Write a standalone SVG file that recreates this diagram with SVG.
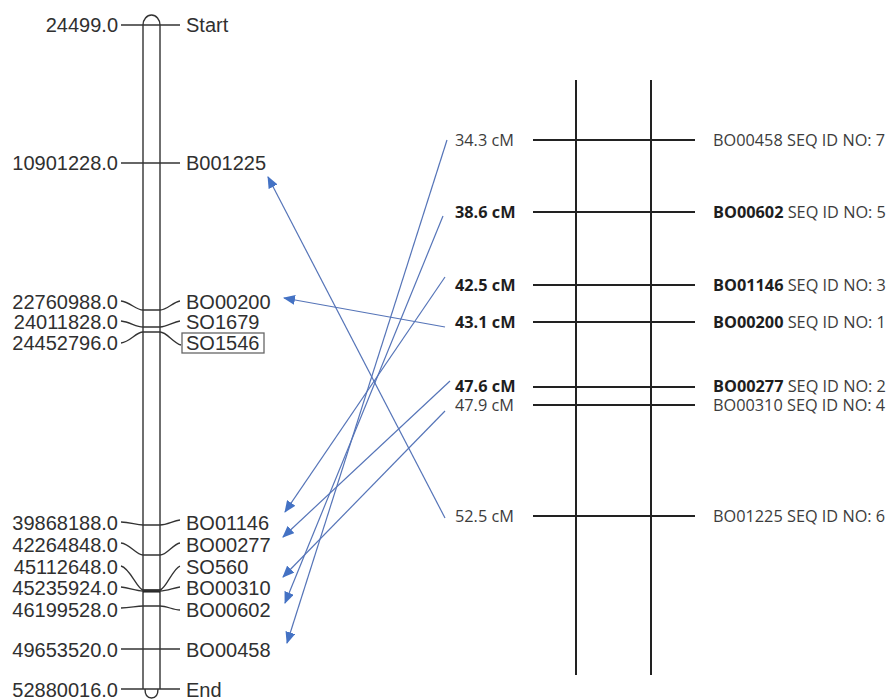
<svg xmlns="http://www.w3.org/2000/svg" width="895" height="700" viewBox="0 0 895 700">
<style>
.lt{font-family:"Liberation Sans",Arial,sans-serif;font-size:20px;fill:#303030}
.ln{text-anchor:end}
.rt{font-family:"Open Sans","Noto Sans",sans-serif;font-size:16.3px;fill:#3c3c3c}
.b{font-weight:bold;fill:#1e1e1e}
.tk{fill:none;stroke:#333;stroke-width:1.3}
.ch{fill:none;stroke:#333;stroke-width:1.4}
.rl{fill:none;stroke:#222;stroke-width:2}
.ar{fill:none;stroke:#5574b8;stroke-width:1.2;marker-end:url(#ah)}
</style>
<defs>
<marker id="ah" markerUnits="userSpaceOnUse" markerWidth="12" markerHeight="10" refX="11" refY="5" orient="auto">
<path d="M0,0 L12,5 L0,10 z" fill="#4472c4"/>
</marker>
</defs>
<rect width="895" height="700" fill="#fff"/>
<g id="chromosome">
<path class="ch" d="M143,689 V25 A8.5,10 0 0 1 160,25 V689"/>
<path class="ch" d="M145,689 Q145,698 151.5,698 Q158,698 158,689"/>
<line x1="143" y1="591" x2="160" y2="591" stroke="#111" stroke-width="3"/>
</g>
<g id="physical-map">
<g id="m-start"><path class="tk" d="M121,25 H180"/><text class="lt ln" x="118" y="32">24499.0</text><text class="lt" x="186" y="32">Start</text></g>
<g id="m-b001225"><path class="tk" d="M121,163 H180"/><text class="lt ln" x="118" y="170">10901228.0</text><text class="lt" x="186" y="170">B001225</text></g>
<g id="m-bo00200"><path class="tk" d="M121,301 C130,302 136,310 143,310 H160 C167,310 173,302 180,301"/><text class="lt ln" x="118" y="309">22760988.0</text><text class="lt" x="186" y="309">BO00200</text></g>
<g id="m-so1679"><path class="tk" d="M121,321 C130,322 136,327 143,327 H160 C167,327 173,322 180,321"/><text class="lt ln" x="118" y="329">24011828.0</text><text class="lt" x="186" y="329">SO1679</text></g>
<g id="m-so1546"><path class="tk" d="M121,343 C130,342 136,332 143,332 H160 C167,332 173,343 181,345"/><text class="lt ln" x="118" y="350">24452796.0</text><rect x="182" y="333" width="82" height="20" fill="none" stroke="#666" stroke-width="1.3"/><text class="lt" x="186" y="350">SO1546</text></g>
<g id="m-bo01146"><path class="tk" d="M121,522 C130,522 136,525 143,525 H160 C167,525 173,521 180,520"/><text class="lt ln" x="118" y="530">39868188.0</text><text class="lt" x="186" y="530">BO01146</text></g>
<g id="m-bo00277"><path class="tk" d="M121,543 C130,544 136,555 143,555 H160 C167,555 173,544 180,543"/><text class="lt ln" x="118" y="552">42264848.0</text><text class="lt" x="186" y="552">BO00277</text></g>
<g id="m-so560"><path class="tk" d="M121,566 C130,568 137,589 143,590 H160 C166,589 173,568 180,566"/><text class="lt ln" x="118" y="574">45112648.0</text><text class="lt" x="186" y="574">SO560</text></g>
<g id="m-bo00310"><path class="tk" d="M121,587 C130,588 136,591 143,591 H160 C167,591 173,588 180,587"/><text class="lt ln" x="118" y="595">45235924.0</text><text class="lt" x="186" y="595">BO00310</text></g>
<g id="m-bo00602"><path class="tk" d="M121,608 C130,608 136,606 143,606 H160 C167,606 173,610 180,610"/><text class="lt ln" x="118" y="617">46199528.0</text><text class="lt" x="186" y="617">BO00602</text></g>
<g id="m-bo00458"><path class="tk" d="M121,649 H180"/><text class="lt ln" x="118" y="657">49653520.0</text><text class="lt" x="186" y="657">BO00458</text></g>
<g id="m-end"><path class="tk" d="M121,689 H180"/><text class="lt ln" x="118" y="697">52880016.0</text><text class="lt" x="186" y="697">End</text></g>
</g>
<g id="genetic-map">
<line class="rl" x1="576" y1="80" x2="576" y2="675"/>
<line class="rl" x1="651" y1="80" x2="651" y2="675"/>
<g id="g-bo00458"><line class="rl" x1="533" y1="140" x2="695" y2="140"/><text class="rt" x="455" y="146">34.3 cM</text><text class="rt" x="713" y="146">BO00458 SEQ ID NO: 7</text></g>
<g id="g-bo00602"><line class="rl" x1="533" y1="212" x2="695" y2="212"/><text class="rt b" x="455" y="218">38.6 cM</text><text class="rt" x="713" y="218"><tspan class="b">BO00602</tspan> SEQ ID NO: 5</text></g>
<g id="g-bo01146"><line class="rl" x1="533" y1="285" x2="695" y2="285"/><text class="rt b" x="455" y="291">42.5 cM</text><text class="rt" x="713" y="291"><tspan class="b">BO01146</tspan>  SEQ ID NO: 3</text></g>
<g id="g-bo00200"><line class="rl" x1="533" y1="322" x2="695" y2="322"/><text class="rt b" x="455" y="328">43.1 cM</text><text class="rt" x="713" y="328"><tspan class="b">BO00200</tspan>  SEQ ID NO: 1</text></g>
<g id="g-bo00277"><line class="rl" x1="533" y1="387" x2="695" y2="387"/><text class="rt b" x="455" y="392">47.6 cM</text><text class="rt" x="713" y="392"><tspan class="b">BO00277</tspan>  SEQ ID NO: 2</text></g>
<g id="g-bo00310"><line class="rl" x1="533" y1="405" x2="695" y2="405"/><text class="rt" x="455" y="411">47.9 cM</text><text class="rt" x="713" y="411">BO00310  SEQ ID NO: 4</text></g>
<g id="g-bo01225"><line class="rl" x1="533" y1="516" x2="695" y2="516"/><text class="rt" x="455" y="522">52.5 cM</text><text class="rt" x="713" y="522">BO01225 SEQ ID NO: 6</text></g>
</g>
<g id="connectors">
<line class="ar" x1="447" y1="140" x2="287" y2="643"/>
<line class="ar" x1="443" y1="216" x2="285" y2="603"/>
<line class="ar" x1="445" y1="277" x2="285" y2="512"/>
<line class="ar" x1="445" y1="327" x2="284" y2="298"/>
<line class="ar" x1="450" y1="381" x2="283" y2="537"/>
<line class="ar" x1="445" y1="411" x2="283" y2="577"/>
<line class="ar" x1="445" y1="518" x2="268" y2="177"/>
</g>
</svg>
